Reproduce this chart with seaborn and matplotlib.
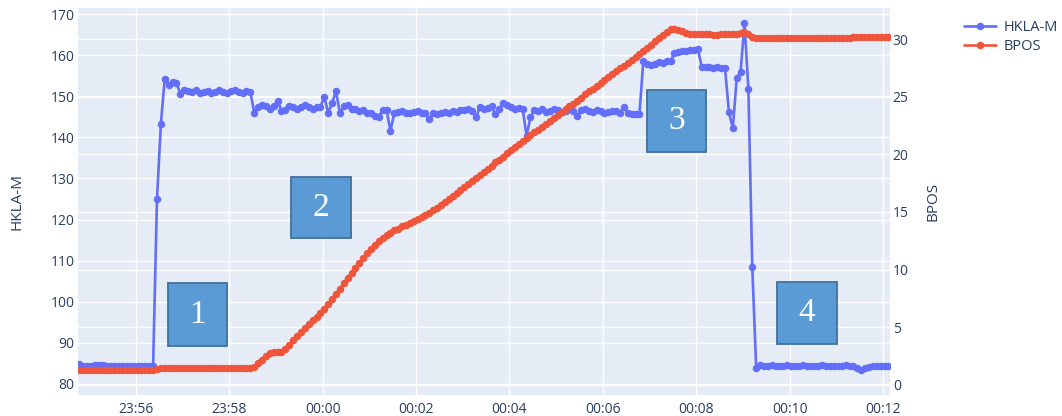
import pandas as pd
import matplotlib
matplotlib.use("Agg")
import matplotlib.pyplot as plt
import matplotlib.dates as mdates
from matplotlib.patches import Rectangle
from matplotlib.lines import Line2D
import seaborn as sns

# Sampling of both signals: one reading every 5 seconds
START = "2021-03-01 23:54:47"
STEP = "5s"

hkla_m = [
    # 23:54:47 - 23:56:22
    84.8, 84.4, 84.3, 84.4, 84.7, 84.7, 84.5, 84.3, 84.3, 84.4,
    84.3, 84.3, 84.4, 84.3, 84.3, 84.4, 84.3, 84.3, 84.4, 84.3,
    # ramp up
    125.0, 143.3, 154.3,
    152.7, 153.5, 153.2, 150.6, 151.5, 151.3, 151.0, 151.4, 150.7, 151.0,
    151.2, 150.8, 151.0, 151.5, 151.1, 150.8, 151.2, 151.4, 151.0, 150.7,
    151.2, 151.0,
    146.0, 147.4, 147.9, 147.5, 147.0, 147.6, 148.9, 146.5, 146.6, 147.6,
    147.4, 147.0, 147.3, 147.9, 147.3, 146.9, 147.3, 147.4, 149.8, 146.0,
    148.3, 151.3,
    145.9, 147.5, 147.9, 147.0, 146.8, 146.3, 146.6, 146.0, 145.8, 145.2,
    145.0, 146.7, 146.6, 141.6, 145.9, 146.2, 146.4, 146.0, 145.8, 146.1,
    146.3, 145.8, 145.9,
    144.4, 145.8, 145.6, 145.9, 146.2, 146.0, 146.3, 146.1, 146.6, 146.7,
    146.9, 146.5, 144.9, 147.3, 147.0, 147.2, 147.5, 145.6, 147.0, 148.3,
    147.8, 147.4, 147.0, 147.1, 146.8, 140.3, 145.0, 146.6,
    146.4, 146.8, 146.2, 146.5, 147.0, 146.6, 146.1, 146.5, 146.9, 146.3,
    145.2, 146.6, 146.8, 146.4, 146.2, 146.7, 146.5, 146.0, 146.2, 146.4,
    146.4, 146.0, 147.3, 145.8, 145.7, 145.6, 145.6,
    158.6, 157.8, 157.5, 157.9, 158.3, 158.0, 158.5, 158.6, 160.4, 160.7,
    161.0, 161.1, 161.2, 161.3, 161.5, 157.2, 157.0, 157.1, 156.9, 157.0,
    156.9, 156.8, 146.1, 142.2, 154.4, 156.0, 167.7, 151.8, 108.5, 84.0,
    84.5, 84.4, 84.4, 84.5, 84.4, 84.4, 84.4, 84.5, 84.4, 84.4,
    84.4, 84.5, 84.4, 84.4, 84.4, 84.4, 84.5, 84.4, 84.4, 84.4,
    84.4, 84.4, 84.5, 84.4, 84.3,
    84.0, 83.4, 83.9, 84.2, 84.3, 84.3, 84.3, 84.3, 84.3,
]

bpos = [
    1.3, 1.3, 1.3, 1.3, 1.3, 1.3, 1.3, 1.3, 1.3, 1.3,
    1.3, 1.3, 1.3, 1.3, 1.3, 1.3, 1.3, 1.3, 1.3, 1.3,
    1.4,
    1.5, 1.5, 1.5, 1.5, 1.5, 1.5, 1.5, 1.5, 1.5, 1.5,
    1.5, 1.5, 1.5, 1.5, 1.5, 1.5, 1.5, 1.5, 1.5, 1.5,
    1.5, 1.5, 1.5, 1.5,
    1.6, 1.9, 2.2, 2.5, 2.8, 2.9, 2.9, 2.9, 3.1, 3.5,
    3.9, 4.25, 4.55, 4.95, 5.3, 5.6, 5.9, 6.25, 6.55, 7.0,
    7.45, 7.9, 8.35, 8.8, 9.3, 9.7, 10.1, 10.55, 11.0, 11.45,
    11.8, 12.15, 12.45, 12.75, 13.0, 13.2, 13.4, 13.55, 13.75, 13.9,
    14.05, 14.2, 14.4, 14.55, 14.75, 14.95, 15.15, 15.35, 15.6, 15.85,
    16.1, 16.4, 16.65, 16.9, 17.15, 17.4, 17.65, 17.95, 18.2,
    18.5, 18.75, 19.0, 19.3, 19.55, 19.8, 20.1, 20.35, 20.6, 20.9,
    21.15, 21.4, 21.65, 21.9, 22.15, 22.4, 22.65, 22.9, 23.15, 23.4,
    23.65, 23.9, 24.15, 24.4, 24.65, 24.9, 25.2, 25.45, 25.7, 25.95,
    26.2, 26.45, 26.7, 26.95, 27.2, 27.45, 27.7, 27.95, 28.2, 28.45,
    28.7, 28.95, 29.25, 29.5, 29.8, 30.05, 30.35, 30.65, 30.9,
    30.9, 30.8, 30.7, 30.55, 30.45,
    30.4, 30.4, 30.4, 30.4, 30.4, 30.35, 30.35, 30.4, 30.4, 30.4,
    30.4, 30.45,
    30.5, 30.6, 30.4, 30.15,
    30.05, 30.05, 30.05, 30.05, 30.05, 30.05, 30.05, 30.05, 30.05, 30.05,
    30.05, 30.05, 30.05, 30.05, 30.05, 30.1, 30.1, 30.1, 30.1, 30.1,
    30.1, 30.1, 30.1, 30.1, 30.1, 30.15, 30.15, 30.15, 30.15, 30.15,
    30.15, 30.2, 30.2, 30.2, 30.2,
]

left_ticks = [80, 90, 100, 110, 120, 130, 140, 150, 160, 170]
right_ticks = [0, 5, 10, 15, 20, 25, 30]
phase_labels = ["1", "2", "3", "4"]

assert len(hkla_m) == len(bpos)
times = pd.date_range(START, periods=len(hkla_m), freq=STEP)
df = pd.DataFrame({"time": times, "HKLA-M": hkla_m, "BPOS": bpos})

BLUE = "#636EFA"
RED = "#EF553B"
TEXT = "#2a3f5f"
BG = "#E5ECF6"
MS = 5.4
LW = 1.9

sns.set_theme(style="white")
plt.rcParams["font.family"] = ["Open Sans", "DejaVu Sans"]

fig = plt.figure(figsize=(10.62, 4.16), dpi=100)
pos = [78 / 1062, 21 / 416, 812 / 1062, 387 / 416]

# background axes: panel colour plus all grid lines, kept under the traces
ax_bg = fig.add_axes(pos, zorder=0)
ax = fig.add_axes(pos, zorder=1, sharex=ax_bg)
ax.patch.set_visible(False)
ax2 = ax.twinx()
ax2.set_zorder(2)
ax2.patch.set_visible(False)

x0 = pd.Timestamp("2021-03-01 23:54:45.5")
x1 = pd.Timestamp("2021-03-02 00:12:09")
ylim_left = (77.32, 171.46)
ylim_right = (-0.87, 32.69)

sns.lineplot(data=df, x="time", y="HKLA-M", ax=ax, color=BLUE, marker="o",
             markersize=MS, markeredgewidth=0, linewidth=LW, estimator=None)
sns.lineplot(data=df, x="time", y="BPOS", ax=ax2, color=RED, marker="o",
             markersize=MS, markeredgewidth=0, linewidth=LW, estimator=None)

ax_bg.set_facecolor(BG)
ax_bg.set_xlim(x0, x1)
ax_bg.set_ylim(*ylim_right)
ax_bg.set_yticks(right_ticks)
ax_bg.grid(True, color="white", linewidth=1.0)
ax_bg.tick_params(left=False, bottom=False, labelleft=False, labelbottom=False)

ax.set_ylim(*ylim_left)
ax.set_yticks(left_ticks)
ax.grid(True, axis="y", color="white", linewidth=1.0)
ax.grid(False, axis="x")
ax2.set_ylim(*ylim_right)
ax2.set_yticks(right_ticks)
ax2.grid(False)

for a in (ax_bg, ax, ax2):
    for s in a.spines.values():
        s.set_visible(False)

locator = mdates.MinuteLocator(byminute=range(0, 60, 2))
ax.xaxis.set_major_locator(locator)
ax.xaxis.set_major_formatter(mdates.DateFormatter("%H:%M"))
ax_bg.set_xlim(x0, x1)

ax.tick_params(axis="x", length=0, pad=5, labelsize=10, labelcolor=TEXT)
ax.tick_params(axis="y", length=0, pad=2.5, labelsize=10, labelcolor=TEXT)
ax2.tick_params(axis="y", length=0, pad=2, labelsize=10, labelcolor=TEXT)

ax.set_xlabel("")
ax.set_ylabel("HKLA-M", fontsize=11, color=TEXT)
ax.yaxis.set_label_coords(-0.066, 0.5)
ax2.set_ylabel("BPOS", fontsize=11, color=TEXT)
ax2.yaxis.set_label_coords(1.044, 0.5)

# numbered phase markers
boxes = [
    (0.1108, 0.1266, 0.0727, 0.1628),
    (0.2623, 0.4057, 0.0739, 0.1576),
    (0.7007, 0.6279, 0.0727, 0.1602),
    (0.8608, 0.1318, 0.0739, 0.1602),
]
for label, (bx, by, bw, bh) in zip(phase_labels, boxes):
    ax2.add_patch(Rectangle((bx, by), bw, bh, transform=ax2.transAxes,
                            facecolor="#5B9BD5", edgecolor="#41719C",
                            linewidth=1.3, zorder=5, clip_on=False))
    ax2.text(bx + bw / 2, by + bh / 2, label, transform=ax2.transAxes,
             ha="center", va="center", color="white", fontsize=24,
             family=["Liberation Serif", "DejaVu Serif"], zorder=6)

handles = [
    Line2D([], [], color=BLUE, marker="o", markersize=MS, markeredgewidth=0, linewidth=LW),
    Line2D([], [], color=RED, marker="o", markersize=MS, markeredgewidth=0, linewidth=LW),
]
fig.legend(handles, ["HKLA-M", "BPOS"], loc="upper left",
           bbox_to_anchor=(958 / 1062, 1 - 14 / 416), frameon=False,
           fontsize=10.5, labelcolor=TEXT, handlelength=2.2, handletextpad=0.5,
           borderaxespad=0, labelspacing=0.3)

fig.savefig("out.png", dpi=100)
